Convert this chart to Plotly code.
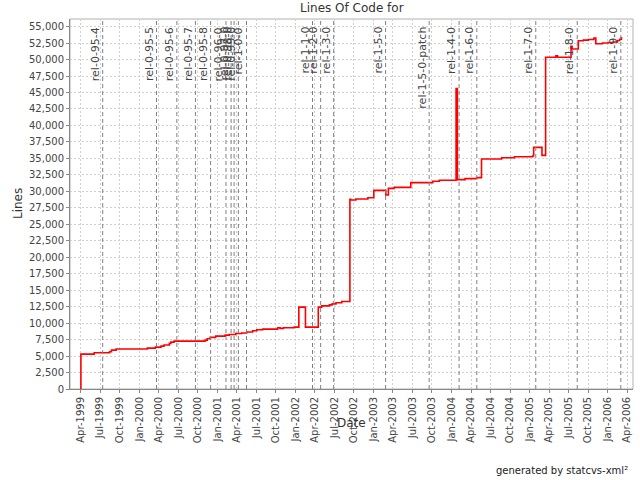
import plotly.graph_objects as go

# ---- data ----
dates = [
    "1999-04-01", "1999-04-02", "1999-06-03", "1999-08-14", "1999-08-23", "1999-09-14",
    "2000-02-07", "2000-03-16", "2000-04-11", "2000-04-25", "2000-05-20", "2000-05-27",
    "2000-06-11", "2000-11-03", "2000-11-13", "2000-11-27", "2000-12-23", "2001-02-05",
    "2001-02-24", "2001-03-27", "2001-04-24", "2001-05-17", "2001-06-14", "2001-07-03",
    "2001-07-31", "2001-10-09", "2001-10-20", "2001-11-05", "2001-12-25", "2002-01-16",
    "2002-02-16", "2002-04-17", "2002-05-03", "2002-06-08", "2002-06-21", "2002-07-09",
    "2002-08-05", "2002-09-12", "2002-09-16", "2002-10-10", "2002-12-05", "2003-01-02",
    "2003-02-27", "2003-03-11", "2003-04-07", "2003-06-24", "2003-10-05", "2003-11-05",
    "2004-01-22", "2004-01-28", "2004-03-04", "2004-04-27", "2004-05-20", "2004-08-22",
    "2004-10-21", "2005-01-14", "2005-01-19", "2005-02-27", "2005-03-16", "2005-05-03",
    "2005-05-11", "2005-07-13", "2005-07-18", "2005-08-16", "2005-09-08", "2005-10-02",
    "2005-10-28", "2005-11-06", "2005-12-07", "2006-01-03", "2006-01-26", "2006-02-15",
    "2006-02-26", "2006-03-06", "2006-03-10",
]
lines = [
    0, 5300, 5500, 5650, 5900, 6060,
    6200, 6360, 6500, 6670, 6920, 7120,
    7270, 7420, 7620, 7830, 8030, 8180,
    8280, 8430, 8500, 8650, 8840, 8990,
    9090, 9300, 9200, 9300, 9390, 12420,
    9390, 12420, 12620, 12770, 12920, 13080,
    13280, 28800, 28690, 28840, 29030, 30150,
    29450, 30450, 30600, 31320, 31520, 31670,
    45600, 31770, 31920, 32070, 34900, 35100,
    35250, 35350, 36670, 35450, 50350, 50550,
    50350, 52000, 51600, 52850, 52950, 53050,
    53250, 52400, 52500, 52580, 52650, 52880,
    53080, 53280, 53280,
]

tag_names = [
    "rel-0-95-4", "rel-0-95-5", "rel-0-95-6", "rel-0-95-7", "rel-0-95-8",
    "rel-0-96-0", "rel-0-97-0", "rel-0-98-0", "rel-0-99-0", "rel-1-0-0",
    "rel-1-1-0", "rel-1-2-0", "rel-1-3-0", "rel-1-5-0", "rel-1-5-0-patch",
    "rel-1-4-0", "rel-1-6-0", "rel-1-7-0", "rel-1-8-0", "rel-1-9-0",
]
tag_dates = [
    "1999-07-13", "2000-03-21", "2000-06-24", "2000-09-19", "2000-11-29",
    "2001-02-09", "2001-03-05", "2001-03-19", "2001-04-08", "2001-05-16",
    "2002-03-21", "2002-04-28", "2002-06-28", "2003-02-26", "2003-09-18",
    "2004-02-05", "2004-04-28", "2005-01-29", "2005-08-11", "2006-03-03",
]

months = ["Jan", "Apr", "Jul", "Oct"]
tick_vals = []
tick_text = []
for yr in range(1999, 2007):
    for mi, m in enumerate(months):
        d = f"{yr}-{mi*3+1:02d}-01"
        if "1999-04-01" <= d <= "2006-04-01":
            tick_vals.append(d)
            tick_text.append(f"{m}-{yr}")

y_ticks = list(range(0, 55001, 2500))

FONT = "DejaVu Sans"

fig = go.Figure()
fig.add_trace(go.Scatter(
    x=dates, y=lines, mode="lines", line=dict(color="#ff0000", width=1.6, shape="hv"),
    showlegend=False, hoverinfo="skip",
))

shapes = []
annotations = []
for name, d in zip(tag_names, tag_dates):
    shapes.append(dict(type="line", xref="x", yref="paper", x0=d, x1=d, y0=0, y1=1,
                       line=dict(color="#808080", width=1, dash="4px,3px"), layer="above"))
    annotations.append(dict(x=d, y=1, xref="x", yref="paper", text=name, textangle=-90,
                            showarrow=False, xanchor="right", yanchor="top", yshift=-6,
                            xshift=1, font=dict(family=FONT, size=11, color="#444444")))

annotations += [
    dict(x=0.5, y=1, xref="paper", yref="paper", yanchor="middle", yshift=11, text="Lines Of Code for",
         showarrow=False, font=dict(family=FONT, size=12, color="#333333")),
    dict(x=0.5, y=0, xref="paper", yref="paper", yanchor="middle", yshift=-34, text="Date",
         showarrow=False, font=dict(family=FONT, size=12, color="#333333")),
    dict(x=0, y=0.5, xref="paper", yref="paper", xanchor="center", xshift=-52, text="Lines",
         textangle=-90, showarrow=False, font=dict(family=FONT, size=12, color="#333333")),
    dict(x=1, y=0, xref="paper", yref="paper", xanchor="right", yanchor="middle", yshift=-81,
         xshift=-3, text="generated by statcvs-xml²", showarrow=False,
         font=dict(family=FONT, size=10, color="#222222")),
]

fig.update_layout(
    width=640, height=480,
    margin=dict(l=70, r=7, t=19, b=91),
    paper_bgcolor="white", plot_bgcolor="white",
    shapes=shapes, annotations=annotations,
    xaxis=dict(
        type="date", range=["1999-02-10", "2006-04-29"],
        tickmode="array", tickvals=tick_vals, ticktext=tick_text, tickangle=-90,
        tickfont=dict(family=FONT, size=10, color="#444444"),
        showgrid=True, gridcolor="#d0d0d0", griddash="2px,2px", gridwidth=1,
        showline=True, linecolor="#888888", linewidth=1, mirror=False,
        ticks="outside", ticklen=3, tickcolor="#888888", zeroline=False,
        automargin=False,
    ),
    yaxis=dict(
        range=[0, 56150], tickmode="array", tickvals=y_ticks,
        ticktext=[f"{v:,}" for v in y_ticks],
        tickfont=dict(family=FONT, size=10, color="#444444"),
        showgrid=True, gridcolor="#d0d0d0", griddash="2px,2px", gridwidth=1,
        showline=True, linecolor="#888888", linewidth=1,
        ticks="outside", ticklen=3, tickcolor="#888888", zeroline=False,
        automargin=False,
    ),
)
# light frame on top/right like the reference plot border
fig.add_shape(type="rect", xref="paper", yref="paper", x0=0, x1=1, y0=0, y1=1,
              line=dict(color="#b0b0b0", width=1), layer="below")

fig.write_html("out.html", config={"displayModeBar": False},
               post_script="document.body.style.margin='0px';")
